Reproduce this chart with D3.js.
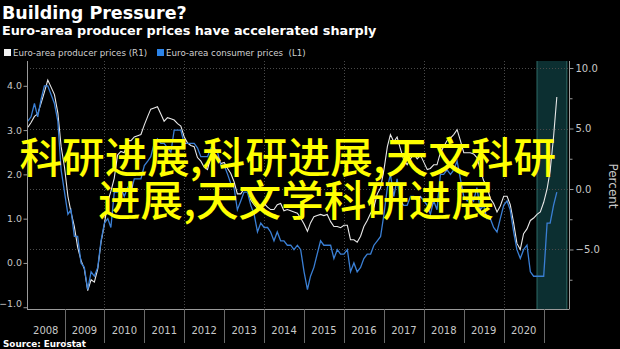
<!DOCTYPE html>
<html><head><meta charset="utf-8">
<script src="https://cdn.jsdelivr.net/npm/d3@7"></script>
<style>
html,body{margin:0;padding:0;background:#000;}
svg{display:block;}
</style></head>
<body><svg id="c" width="620" height="349"></svg>
<script>
const title = "Building Pressure?";
const subtitle = "Euro-area producer prices have accelerated sharply";
const seriesNames = ["Euro-area producer prices (R1)", "Euro-area consumer prices  (L1)"];
const seriesColors = ["#e8e8e8", "#3a7fd4"];
const firstMonth = [2008, 0]; // Jan 2008, plotted at month end
// Euro-area producer prices, YoY % (right axis)
const ppi = [
  5.1, 5.5, 6.0, 6.2, 7.1, 8.0, 9.0, 8.4, 7.8, 6.3, 3.5, 1.8,
  -0.6, -1.9, -3.1, -4.8, -5.9, -6.6, -8.4, -7.5, -7.7, -6.6, -4.4, -2.9,
  -1.0, -0.2, 0.9, 2.8, 3.1, 3.0, 4.0, 4.0, 4.3, 4.4, 4.5, 5.3,
  6.0, 6.6, 6.7, 6.8, 6.2, 5.6, 5.9, 5.8, 5.7, 5.4, 5.2, 4.3,
  3.8, 3.6, 3.5, 2.6, 2.3, 1.8, 1.6, 2.7, 2.7, 2.6, 2.1, 2.2,
  1.7, 1.3, 0.6, -0.4, -0.4, 0.0, -0.1, -0.9, -1.3, -1.6, -1.5, -1.2,
  -1.5, -1.7, -1.7, -1.3, -1.2, -1.8, -1.7, -1.8, -1.9, -2.0, -2.4, -2.9,
  -3.5, -2.8, -2.3, -2.2, -2.1, -2.2, -2.1, -2.7, -3.1, -3.1, -3.2, -3.0,
  -3.0, -4.2, -4.2, -4.4, -3.9, -3.1, -2.6, -2.0, -1.5, -0.4, 0.1, 1.6,
  3.5, 4.5, 3.9, 4.3, 3.3, 2.4, 2.0, 2.5, 2.9, 2.5, 2.8, 2.2,
  1.6, 1.7, 2.0, 2.0, 3.0, 3.5, 4.0, 4.2, 4.5, 4.9, 4.0, 3.0,
  3.0, 3.0, 2.9, 2.6, 1.6, 0.7, 0.2, -0.8, -1.2, -1.9, -1.4, -0.6,
  -0.6, -1.3, -2.8, -4.5, -5.0, -3.7, -3.3, -2.6, -2.4, -2.1, -1.9, -1.1,
  0.0, 1.5, 4.3, 7.6
];
// Euro-area consumer prices, YoY % (left axis)
const cpi = [
  3.2, 3.3, 3.6, 3.3, 3.7, 4.0, 4.0, 3.8, 3.6, 3.2, 2.1, 1.6,
  1.1, 1.2, 0.6, 0.6, 0.0, -0.1, -0.6, -0.2, -0.3, -0.1, 0.5, 0.9,
  1.0, 0.8, 1.6, 1.6, 1.7, 1.5, 1.7, 1.6, 1.9, 1.9, 1.9, 2.2,
  2.3, 2.4, 2.7, 2.8, 2.7, 2.7, 2.6, 2.5, 3.0, 3.0, 3.0, 2.7,
  2.7, 2.7, 2.7, 2.6, 2.4, 2.4, 2.4, 2.6, 2.6, 2.5, 2.2, 2.2,
  2.0, 1.8, 1.7, 1.2, 1.4, 1.6, 1.6, 1.3, 1.1, 0.7, 0.9, 0.8,
  0.8, 0.7, 0.5, 0.7, 0.5, 0.5, 0.4, 0.4, 0.3, 0.4, 0.3, -0.2,
  -0.6, -0.3, -0.1, 0.2, 0.5, 0.4, 0.4, 0.4, 0.1, 0.3, 0.2, 0.2,
  0.3, -0.2, 0.0, -0.2, -0.1, 0.1, 0.2, 0.2, 0.4, 0.5, 0.6, 1.1,
  1.7, 2.0, 1.5, 1.9, 1.4, 1.3, 1.3, 1.5, 1.5, 1.4, 1.5, 1.4,
  1.3, 1.1, 1.4, 1.2, 2.0, 2.0, 2.1, 2.0, 2.1, 2.3, 1.9, 1.5,
  1.4, 1.5, 1.4, 1.7, 1.2, 1.3, 1.0, 1.0, 0.8, 0.7, 1.0, 1.3,
  1.4, 1.2, 0.7, 0.3, 0.1, 0.3, 0.4, -0.2, -0.3, -0.3, -0.3, -0.3,
  0.9, 0.9, 1.3, 1.6
];
const leftTicks = [4.0, 3.0, 2.0, 1.0, 0.0, -1.0];
const rightTicks = [10.0, 5.0, 0.0, -5.0];
const rightMinorTicks = [7.5, 2.5, -2.5, -7.5];
const yearLabels = [2008, 2009, 2010, 2011, 2012, 2013, 2014, 2015, 2016, 2017, 2018, 2019, 2020];
const gridYears = [2010, 2012, 2014, 2016, 2018, 2020];
const shadeRange = [[2020, 10, 1], [2021, 7, 1]];
const rightAxisTitle = "Percent";
const overlayLines = ["科研进展,科研进展,天文科研", "进展,天文学科研进展"];
const sourceText = "Source: Eurostat";

const W = 620, H = 349;
const plot = {left: 27, right: 569, top: 61, bottom: 309};
const svg = d3.select("#c");
svg.append("rect").attr("width", W).attr("height", H).attr("fill", "#000");

const x = d3.scaleTime()
  .domain([new Date(2008, 0, 1), new Date(2021, 0, 1)])
  .range([24.5, 543.7]);
const yL = d3.scaleLinear().domain([-1.04, 4.56]).range([plot.bottom, plot.top]);
const yR = d3.scaleLinear().domain([-9.92, 10.58]).range([plot.bottom, plot.top]);

const dates = ppi.map((_, i) => new Date(firstMonth[0], firstMonth[1] + i + 1, 1));

svg.append("defs").append("clipPath").attr("id", "clip")
  .append("rect").attr("x", plot.left).attr("y", plot.top)
  .attr("width", plot.right - plot.left).attr("height", plot.bottom - plot.top);

// shaded region
const sx0 = x(new Date(...shadeRange[0])), sx1 = x(new Date(...shadeRange[1]));
svg.append("rect").attr("x", sx0).attr("y", plot.top).attr("width", sx1 - sx0)
  .attr("height", plot.bottom - plot.top).attr("fill", "#0c2f31");
[sx0, sx1].forEach(v => svg.append("line").attr("x1", v).attr("x2", v)
  .attr("y1", plot.top).attr("y2", plot.bottom).attr("stroke", "#2f6d68").attr("stroke-width", 1));

// grid
const grid = svg.append("g").attr("stroke", "#4a4a4a").attr("stroke-dasharray", "1,2").attr("stroke-width", 1);
rightTicks.forEach(t => grid.append("line").attr("x1", plot.left).attr("x2", plot.right)
  .attr("y1", Math.round(yR(t)) + 0.5).attr("y2", Math.round(yR(t)) + 0.5));
gridYears.forEach(yr => {
  const xv = Math.round(x(new Date(yr, 0, 1))) + 0.5;
  grid.append("line").attr("x1", xv).attr("x2", xv).attr("y1", plot.top).attr("y2", plot.bottom);
});

// lines
const g = svg.append("g").attr("clip-path", "url(#clip)");
g.append("path").datum(ppi).attr("fill", "none").attr("stroke", seriesColors[0]).attr("stroke-width", 1.1)
  .attr("d", d3.line().x((d, i) => x(dates[i])).y(d => yR(d)));
g.append("path").datum(cpi).attr("fill", "none").attr("stroke", seriesColors[1]).attr("stroke-width", 1.3)
  .attr("d", d3.line().x((d, i) => x(dates[i])).y(d => yL(d)));

// axes
const axisColor = "#9a9a9a", labelColor = "#c8c8c8";
const font = "DejaVu Sans";
const left = svg.append("g").attr("transform", `translate(${plot.left + 0.5},0)`)
  .call(d3.axisLeft(yL).tickValues(leftTicks).tickFormat(d3.format(".1f")).tickSize(4).tickPadding(1.5));
const right = svg.append("g").attr("transform", `translate(${plot.right + 0.5},0)`)
  .call(d3.axisRight(yR).tickValues(rightTicks).tickFormat(d3.format(".1f")).tickSize(4).tickPadding(2));
const rightMinor = svg.append("g").attr("transform", `translate(${plot.right + 0.5},0)`)
  .call(d3.axisRight(yR).tickValues(rightMinorTicks).tickFormat("").tickSize(3));
rightMinor.select(".domain").remove();
[left, right, rightMinor].forEach(a => {
  a.selectAll("path.domain").attr("stroke", axisColor);
  a.selectAll(".tick line").attr("stroke", axisColor);
  a.selectAll(".tick text").attr("fill", labelColor).attr("font-family", font).attr("font-size", 10);
});
left.selectAll(".tick text").attr("font-size", 9.4);
left.selectAll(".tick").filter(d => d === -1.0).select("text").attr("dy", "-0.05em");
left.select(".domain").attr("d", `M0,${plot.top}V${plot.bottom}`);
right.select(".domain").attr("d", `M0,${plot.top}V${plot.bottom}`);

// bottom axis
svg.append("line").attr("x1", plot.left).attr("x2", plot.right + 0.5)
  .attr("y1", plot.bottom + 0.5).attr("y2", plot.bottom + 0.5).attr("stroke", axisColor);
const bottom = svg.append("g");
yearLabels.slice(1).concat([2021]).forEach(yr => {
  const xv = Math.round(x(new Date(yr, 0, 1))) + 0.5;
  bottom.append("line").attr("x1", xv).attr("x2", xv).attr("y1", plot.bottom).attr("y2", 343)
    .attr("stroke", "#6a6a6a");
});
yearLabels.forEach(yr => {
  const a = Math.max(plot.left, x(new Date(yr, 0, 1))), b = x(new Date(yr + 1, 0, 1));
  bottom.append("text").attr("x", (a + b) / 2).attr("y", 334).attr("text-anchor", "middle")
    .attr("fill", labelColor).attr("font-family", font).attr("font-size", 10).text(yr);
});

svg.append("text").attr("transform", `translate(609,186) rotate(90)`).attr("text-anchor", "middle")
  .attr("fill", labelColor).attr("font-family", font).attr("font-size", 12).text(rightAxisTitle);

// titles
svg.append("text").attr("x", 2).attr("y", 18.5).attr("fill", "#fff").attr("font-family", font)
  .attr("font-weight", "bold").attr("font-size", 17.5).text(title);
svg.append("text").attr("x", 2).attr("y", 35).attr("fill", "#fff").attr("font-family", font)
  .attr("font-weight", "bold").attr("font-size", 12.8).text(subtitle);

// legend
const legendX = [4, 157];
seriesNames.forEach((n, i) => {
  svg.append("rect").attr("x", legendX[i]).attr("y", 49).attr("width", 7).attr("height", 7)
    .attr("fill", i === 0 ? "#f2f2f2" : "#2b83e8");
  svg.append("text").attr("x", legendX[i] + 9).attr("y", 55.7).attr("fill", "#d0d0d0")
    .attr("font-family", font).attr("font-size", 8.7).style("white-space", "pre").text(n);
});

// source
svg.append("text").attr("x", 3).attr("y", 347).attr("fill", "#fff").attr("font-family", font)
  .attr("font-weight", "bold").attr("font-size", 8.8).style("white-space", "pre").text(sourceText);

// overlay text
const ovX = [19.5, 98], ovY = [173, 216];
overlayLines.forEach((t, i) => {
  svg.append("text").attr("x", ovX[i]).attr("y", ovY[i]).attr("fill", "#ffff00")
    .attr("font-family", "Noto Sans CJK SC").attr("font-weight", 500).attr("font-size", 42.6).text(t);
});
</script>
</body></html>
